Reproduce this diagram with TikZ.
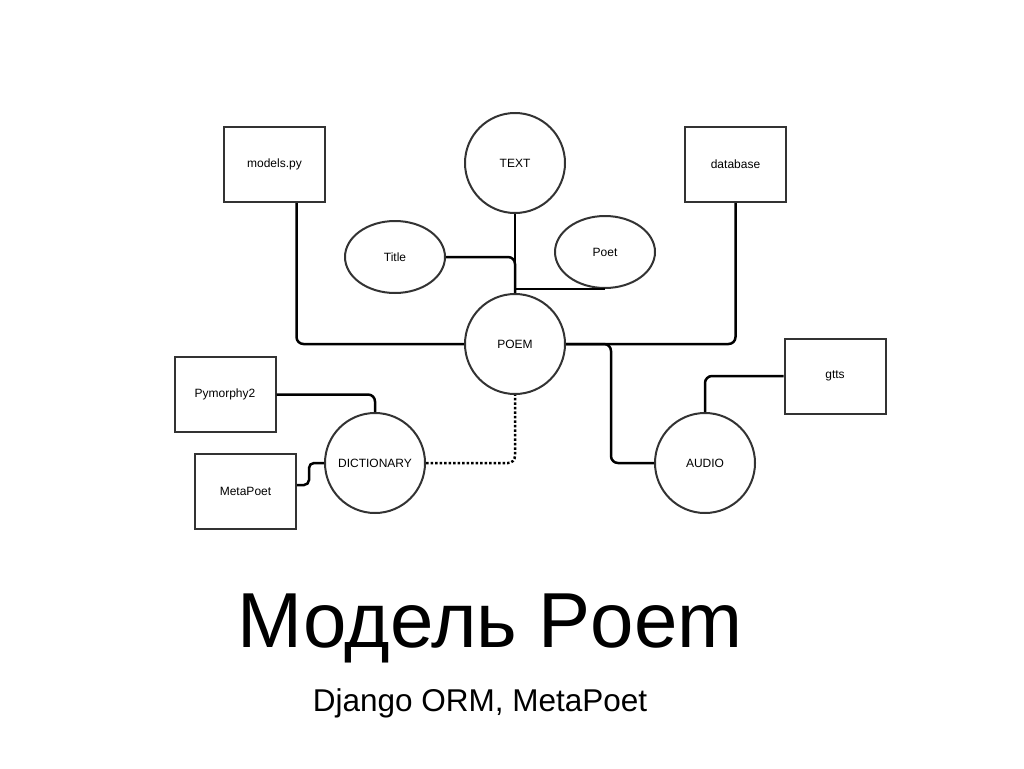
\documentclass[tikz,border=0pt]{standalone}
\usepackage{fontspec}
\setmainfont{Liberation Sans}
\usetikzlibrary{
  calc, % For coordinate calculations
  shapes.geometric % For the ellipses
}

\begin{document}
\begin{tikzpicture}[
      x=1pt, y=-1pt, % pixel grid of the slide
      font=\fontsize{12}{14}\selectfont,
      box/.style={draw=black!80, line width=2pt, minimum width=101pt, minimum height=75pt, inner sep=0pt}, % Style for rectangles
      ent/.style={draw=black!80, line width=2pt, circle, minimum size=100pt, inner sep=0pt}, % Style for circles
      attr/.style={draw=black!80, line width=2pt, ellipse, minimum width=100pt, minimum height=72pt, inner sep=0pt}, % Style for ellipses
      link/.style={line width=2.5pt, black, rounded corners=7pt}, % Style for connectors
    ]

    % Rahmen
    \useasboundingbox (0,0) rectangle (1024,768);

    % Knoten
    \node[box] (models) at (274.5,164.5) {models.py};
    \node[ent] (text) at (515,163) {TEXT};
    \node[box] (database) at (735.5,164.5) {database};
    \node[attr] (title) at (395,257) {Title};
    \node[attr] (poet) at (605,252) {Poet};
    \node[ent] (poem) at (515,344) {POEM};
    \node[box] (pymorphy) at (225,394.5) {Pymorphy2};
    \node[box] (metapoet) at (245.5,491) {MetaPoet};
    \node[ent] (dictionary) at (375,463) {DICTIONARY};
    \node[ent] (audio) at (705,463) {AUDIO};
    \node[box] (gtts) at (835,376) {gtts};

    % Verbindungen
    \draw[link] ($(models.south)+(22,0)$) |- (poem.west);
    \draw[link] (database.south) |- (poem.east);
    \draw[link] (text.south) -- (poem.north);
    \draw[link] (title.east) -| (poem.north);
    \draw[link, sharp corners] (poet.south) -| (poem.north);
    \draw[link] (poem.east) -- ++(45,0) |- (audio.west);
    \draw[link] (gtts.west) -| (audio.north);
    \draw[link] (pymorphy.east) -| (dictionary.north);
    \draw[link, rounded corners=5pt] ($(metapoet.east)+(0,-6)$) -- ++(12,0) |- (dictionary.west);
    \draw[link, dotted] (dictionary.east) -| (poem.south);

    % Titel
    \node (head) at (490,628) {\fontsize{78}{80}\selectfont Модель Poem};
    \node (sub) at (480,703) {\fontsize{31.5}{33}\selectfont Django ORM, MetaPoet};
  \end{tikzpicture}
\end{document}
